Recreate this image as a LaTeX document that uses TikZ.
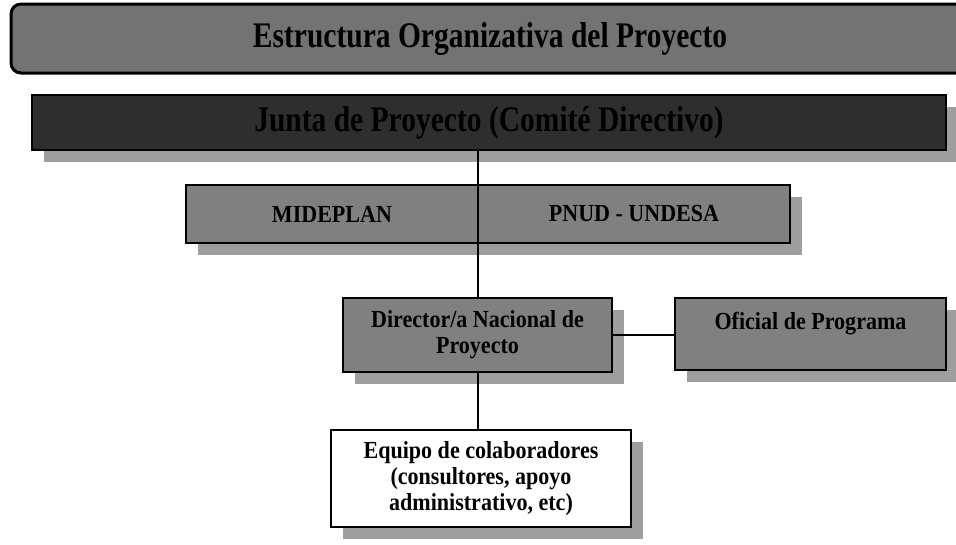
\documentclass[tikz,border=0pt]{standalone}
\usepackage{fontspec}
\setmainfont{Liberation Serif}
\newfontfamily\estrecha[FakeStretch=0.82]{Liberation Serif}
\newfontfamily\cuerpo[FakeStretch=0.9]{Liberation Serif}
\usetikzlibrary{shadows}

\begin{document}
\begin{tikzpicture}[x=1pt,y=-1pt,
    caja/.style={draw=black,line width=2.5pt,fill=black!50,font=\cuerpo\fontsize{24.5}{26}\selectfont\bfseries,align=center,inner sep=0pt},
    sombra/.style={drop shadow={shadow xshift=12pt,shadow yshift=-12pt,fill=black!38,opacity=1}},
    texto/.style={font=\cuerpo\fontsize{24.5}{26}\selectfont\bfseries,inner sep=0pt},
    linea/.style={line width=2pt}]
    \useasboundingbox (0,0) rectangle (956,544);
    \clip (0,0) rectangle (956,544);
    \node[draw=black,line width=3pt,rounded corners=10pt,fill=black!55,minimum width=958pt,minimum height=69pt,font=\estrecha\fontsize{36}{40}\selectfont\bfseries] (titulo) at (490,38.5) {Estructura Organizativa del Proyecto};
    \node[caja,sombra,fill=black!82,minimum width=914pt,minimum height=55pt,font=\estrecha\fontsize{36}{40}\selectfont\bfseries] (junta) at (489,122.5) {Junta de Proyecto (Comité Directivo)};
    \node[caja,sombra,minimum width=604pt,minimum height=58pt] (socios) at (488,214) {};
    \node[texto] (mideplan) at (332,214) {MIDEPLAN};
    \node[texto] (pnud) at (634,214) {PNUD - UNDESA};
    \node[caja,sombra,minimum width=269pt,minimum height=74pt] (director) at (477.5,335) {Director/a Nacional de\\Proyecto};
    \node[caja,sombra,minimum width=271pt,minimum height=72pt] (oficial) at (810.5,334) {Oficial de Programa\\ \mbox{}};
    \node[caja,sombra,fill=white,minimum width=300pt,minimum height=97pt] (equipo) at (481,478.5) {Equipo de colaboradores\\(consultores, apoyo\\administrativo, etc)};
    \draw[linea] (junta.south -| director.north) -- (director.north);
    \draw[linea] (director.south) -- (director.south |- equipo.north);
    \draw[linea] (director.east) -- (director.east -| oficial.west);
\end{tikzpicture}
\end{document}
